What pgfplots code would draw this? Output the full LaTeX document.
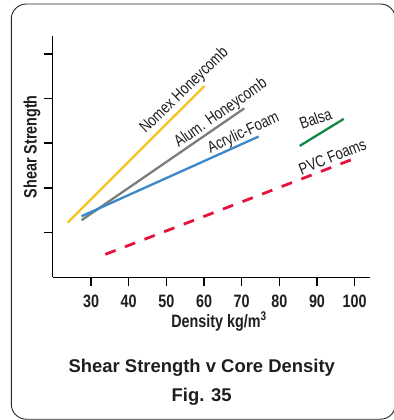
\documentclass[border=0pt]{standalone}
\usepackage{pgfplots}
\pgfplotsset{compat=1.18}
\usepackage{fontspec}
\usepackage{graphicx}
\setmainfont{Liberation Sans}
\definecolor{nomex}{RGB}{245,195,30}
\definecolor{alum}{RGB}{122,126,120}
\definecolor{acryl}{RGB}{58,135,202}
\definecolor{balsa}{RGB}{18,135,72}
\definecolor{pvc}{RGB}{228,18,60}
\definecolor{txt}{RGB}{30,30,30}
\newcommand{\nb}[1]{\scalebox{0.8}[1]{\bfseries\fontsize{18}{20}\selectfont #1}}
\newcommand{\nr}[1]{\scalebox{0.8}[1]{\fontsize{16.5}{18}\selectfont #1}}
\begin{document}
\begin{tikzpicture}
\path[use as bounding box] (0,0) rectangle (394bp,420bp);
\draw[rounded corners=15bp, line width=0.9bp, black!85] (11.3bp,0.8bp) rectangle (395.5bp,416bp);
\begin{axis}[
  at={(52.7bp,142.7bp)}, anchor=south west,
  scale only axis, width=317.3bp, height=241.3bp,
  xmin=19.83, xmax=104.07, ymin=0, ymax=5.4,
  axis lines=left, axis line style={-, line width=1.5bp, black},
  tick style={line width=1.5bp, black},
  tick align=outside, major tick length=9bp,
  xtick={30,40,50,60,70,80,90,100},
  xticklabels={\nb{30},\nb{40},\nb{50},\nb{60},\nb{70},\nb{80},\nb{90},\nb{100}},
  ytick={1,2,3,4,5}, yticklabels={},
  xticklabel style={text=txt, anchor=base, yshift=-21bp},
  xlabel={\nb{Density kg/m\textsuperscript{3}}},
  ylabel={\nb{Shear Strength}},
  xlabel style={at={(axis description cs:0.524,-0.206)}, anchor=base, text=txt},
  ylabel style={at={(axis description cs:-0.051,0.541)}, anchor=base, text=txt},
  clip=false,
]
\addplot[nomex, line width=2.3bp] coordinates {(23.8,1.226) (60.1,4.28)};
\addplot[alum, line width=2.3bp] coordinates {(27.5,1.278) (70.7,3.78)};
\addplot[acryl, line width=2.3bp] coordinates {(27.5,1.367) (74.5,3.15)};
\addplot[balsa, line width=2.3bp] coordinates {(85.4,2.94) (97.1,3.545)};
\addplot[pvc, line width=2.8bp, dash pattern=on 11bp off 10bp] coordinates {(33.8,0.513) (99.4,2.64)};
\begin{scope}[every node/.style={text=txt, inner sep=0pt, anchor=center}]
\node[rotate=44] at (axis cs:54.8,4.18) {\nr{Nomex Honeycomb}};
\node[rotate=35] at (axis cs:64.5,3.67) {\nr{Alum. Honeycomb}};
\node[rotate=25] at (axis cs:70.5,3.22) {\nr{Acrylic-Foam}};
\node[rotate=20] at (axis cs:89.6,3.55) {\nr{Balsa}};
\node[rotate=22] at (axis cs:94.1,2.70) {\nr{PVC Foams}};
\end{scope}
\end{axis}
\node[anchor=base, font=\bfseries\fontsize{18.5}{20}\selectfont, text=txt] at (201.8bp,47bp) {Shear Strength v Core Density};
\node[anchor=base, font=\bfseries\fontsize{18.5}{20}\selectfont, text=txt] at (201.7bp,18.3bp) {Fig. 35};
\end{tikzpicture}
\end{document}
